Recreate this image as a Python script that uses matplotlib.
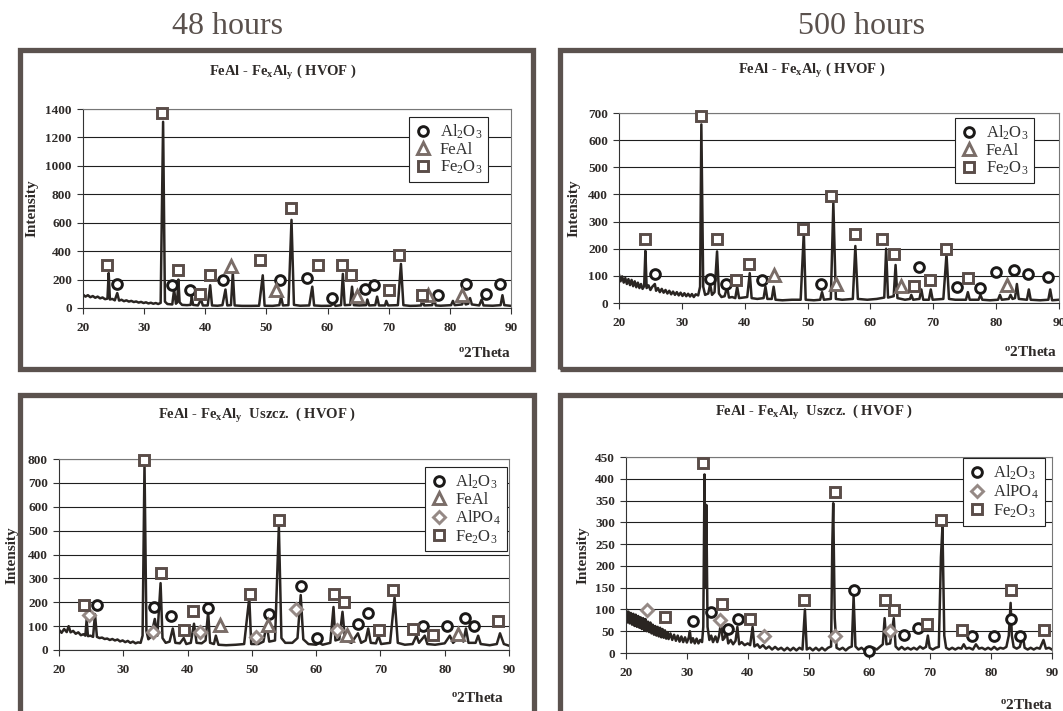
import matplotlib
matplotlib.use("Agg")
import matplotlib.pyplot as plt
from matplotlib.patches import Rectangle
from matplotlib.lines import Line2D

plt.rcParams["font.family"] = "Liberation Serif"
plt.rcParams["mathtext.fontset"] = "custom"
plt.rcParams["mathtext.rm"] = "Liberation Serif"
plt.rcParams["mathtext.bf"] = "Liberation Serif:bold"
plt.rcParams["mathtext.it"] = "Liberation Serif:italic"

W, H = 1063, 711

# ---- XRD patterns (2theta, counts) ----
p1_pattern = [
    (20.0, 95), (20.4, 80), (20.8, 90), (21.2, 76), (21.6, 84), (22.0, 72), (22.4, 80), (22.8, 68),
    (23.2, 74), (23.6, 62), (24.0, 66), (24.2, 246), (24.4, 60), (24.8, 64), (25.2, 54), (25.6, 105),
    (25.9, 52), (26.3, 58), (26.7, 48), (27.1, 54), (27.5, 45), (27.9, 50), (28.3, 42), (28.7, 46),
    (29.1, 38), (29.5, 43), (29.9, 35), (30.3, 40), (30.7, 32), (31.1, 37), (31.5, 30), (31.9, 35),
    (32.3, 28), (32.7, 36), (33.1, 1310), (33.4, 45), (33.8, 28), (34.6, 25), (34.9, 130), (35.2, 30),
    (35.4, 40), (35.6, 200), (35.8, 40), (36.2, 22), (37.0, 20), (37.6, 22), (37.8, 80), (38.0, 22),
    (38.8, 18), (39.3, 60), (39.6, 18), (40.4, 18), (40.8, 160), (41.1, 18), (42.0, 16), (42.8, 20),
    (43.3, 130), (43.6, 18), (44.2, 20), (44.5, 250), (44.8, 18), (46.0, 15), (47.5, 15), (48.8, 16),
    (49.4, 230), (49.7, 16), (51.0, 15), (52.1, 20), (52.4, 80), (52.7, 18), (53.6, 20), (54.1, 620),
    (54.5, 22), (55.5, 16), (57.0, 18), (57.5, 150), (57.8, 18), (59.0, 15), (60.5, 16), (61.0, 30),
    (61.3, 15), (62.2, 20), (62.5, 240), (62.8, 20), (63.7, 22), (64.0, 150), (64.3, 20), (65.2, 18),
    (66.3, 20), (66.5, 60), (66.8, 18), (67.8, 20), (68.1, 80), (68.4, 18), (69.4, 18), (69.6, 50),
    (69.9, 18), (71.5, 20), (72.0, 310), (72.4, 20), (73.5, 15), (74.5, 16), (75.3, 18), (75.5, 60),
    (75.8, 18), (77.1, 20), (77.4, 60), (77.7, 18), (78.5, 16), (80.2, 20), (80.5, 50), (80.8, 20),
    (82.0, 25), (82.3, 60), (82.6, 25), (83.0, 30), (83.3, 70), (83.6, 25), (84.8, 18), (85.2, 60),
    (85.5, 18), (87.0, 16), (88.3, 20), (88.6, 90), (88.9, 20), (90.0, 15),
]
p2_pattern = [
    (20.0, 105), (20.25, 80), (20.5, 98), (20.75, 75), (21.0, 92), (21.25, 70), (21.5, 88), (21.75, 66),
    (22.0, 85), (22.25, 62), (22.5, 80), (22.75, 58), (23.0, 75), (23.25, 55), (23.5, 70), (23.75, 52),
    (24.0, 62), (24.2, 192), (24.4, 55), (24.7, 65), (25.0, 48), (25.3, 60), (25.7, 70), (25.9, 45),
    (26.2, 55), (26.5, 40), (26.8, 52), (27.1, 38), (27.4, 48), (27.7, 35), (28.0, 45), (28.3, 32),
    (28.6, 42), (28.9, 30), (29.2, 40), (29.5, 28), (29.8, 38), (30.1, 26), (30.4, 36), (30.7, 25),
    (31.0, 34), (31.3, 24), (31.6, 33), (31.9, 22), (32.2, 32), (32.6, 28), (32.9, 60), (33.1, 658),
    (33.4, 60), (33.7, 30), (34.2, 35), (34.5, 70), (34.8, 30), (35.2, 40), (35.6, 190), (35.9, 35),
    (36.3, 22), (36.8, 25), (37.2, 60), (37.5, 20), (38.0, 22), (38.5, 18), (38.8, 60), (39.1, 18),
    (39.7, 20), (40.4, 22), (40.8, 110), (41.1, 18), (42.0, 15), (43.0, 18), (43.3, 60), (43.6, 15),
    (44.3, 15), (44.6, 60), (44.9, 12), (46.0, 10), (47.5, 12), (48.9, 12), (49.4, 260), (49.7, 12),
    (51.0, 10), (52.0, 12), (52.3, 40), (52.6, 12), (53.7, 15), (54.1, 370), (54.5, 15), (55.5, 12),
    (57.2, 15), (57.6, 210), (58.0, 15), (59.5, 12), (61.0, 15), (62.2, 20), (62.5, 200), (62.8, 20),
    (63.7, 25), (64.0, 140), (64.3, 18), (65.5, 12), (66.3, 15), (66.5, 30), (66.8, 12), (67.8, 15),
    (68.1, 50), (68.4, 12), (69.3, 12), (69.6, 50), (69.9, 12), (71.6, 15), (72.1, 180), (72.5, 15),
    (73.5, 12), (75.2, 12), (75.5, 40), (75.8, 12), (77.2, 12), (77.5, 30), (77.8, 12), (79.0, 10),
    (80.3, 12), (80.6, 30), (80.9, 12), (82.0, 15), (82.3, 30), (82.6, 15), (83.0, 18), (83.3, 70),
    (83.6, 15), (84.9, 12), (85.2, 50), (85.5, 12), (87.0, 10), (88.3, 12), (88.6, 50), (88.9, 10),
    (90.0, 12),
]
p3_pattern = [
    (20.0, 85), (20.4, 72), (20.8, 88), (21.2, 75), (21.5, 100), (21.8, 74), (22.2, 80), (22.6, 68),
    (23.0, 74), (23.4, 62), (23.8, 66), (24.1, 60), (24.3, 128), (24.5, 58), (24.9, 60), (25.3, 55),
    (25.6, 150), (25.9, 55), (26.3, 50), (26.7, 52), (27.1, 46), (27.5, 48), (27.9, 42), (28.3, 46),
    (28.7, 40), (29.1, 44), (29.5, 36), (29.9, 40), (30.3, 33), (30.7, 38), (31.1, 30), (31.5, 35),
    (31.9, 28), (32.3, 32), (32.7, 30), (33.0, 60), (33.3, 780), (33.6, 80), (33.9, 45), (34.3, 55),
    (34.9, 130), (35.3, 60), (35.8, 280), (36.1, 50), (36.6, 30), (37.2, 35), (37.7, 90), (38.1, 30),
    (38.8, 28), (39.4, 50), (39.8, 25), (40.5, 30), (41.0, 110), (41.4, 30), (42.2, 28), (42.8, 40),
    (43.2, 160), (43.5, 30), (44.1, 25), (44.4, 60), (44.8, 22), (46.0, 20), (47.5, 22), (48.8, 25),
    (49.6, 220), (49.9, 25), (51.0, 25), (51.8, 35), (52.3, 110), (52.7, 35), (53.6, 40), (54.2, 520),
    (54.6, 50), (55.2, 30), (56.3, 30), (57.1, 50), (57.6, 230), (58.0, 45), (58.8, 25), (60.0, 22),
    (60.5, 30), (61.0, 22), (62.2, 30), (62.7, 180), (63.0, 40), (63.6, 45), (64.1, 160), (64.5, 40),
    (65.5, 30), (66.5, 70), (67.0, 30), (67.7, 40), (68.1, 90), (68.5, 30), (69.3, 28), (69.7, 60),
    (70.1, 25), (71.5, 30), (72.2, 220), (72.7, 30), (73.8, 22), (75.0, 25), (75.6, 60), (76.0, 30),
    (76.9, 60), (77.3, 25), (78.5, 22), (80.0, 28), (80.8, 60), (81.3, 30), (82.5, 60), (82.9, 35),
    (83.3, 90), (83.7, 30), (84.8, 30), (85.2, 60), (85.6, 25), (87.0, 20), (88.1, 25), (88.6, 70),
    (89.2, 25), (90.0, 18),
]
p4_pattern = [
    (20.0, 100), (20.2, 70), (20.4, 95), (20.6, 68), (20.8, 92), (21.0, 65), (21.2, 90), (21.4, 62),
    (21.6, 88), (21.8, 60), (22.0, 85), (22.2, 58), (22.4, 82), (22.6, 55), (22.8, 80), (23.0, 52),
    (23.2, 78), (23.4, 50), (23.6, 72), (23.8, 48), (24.0, 70), (24.2, 45), (24.4, 65), (24.6, 42),
    (24.8, 62), (25.0, 40), (25.2, 60), (25.4, 38), (25.6, 58), (25.8, 36), (26.0, 55), (26.2, 35),
    (26.4, 52), (26.6, 33), (26.8, 48), (27.0, 32), (27.3, 45), (27.6, 30), (27.9, 42), (28.2, 28),
    (28.5, 40), (28.8, 26), (29.1, 38), (29.4, 25), (29.7, 36), (30.0, 24), (30.3, 35), (30.5, 50),
    (30.7, 24), (31.0, 34), (31.3, 22), (31.6, 33), (31.9, 22), (32.2, 30), (32.5, 25), (32.7, 60),
    (32.9, 410), (33.05, 150), (33.2, 340), (33.4, 60), (33.7, 30), (34.0, 40), (34.3, 25), (34.7, 38),
    (35.0, 25), (35.3, 40), (35.6, 70), (35.9, 30), (36.2, 35), (36.5, 50), (36.8, 22), (37.2, 30),
    (37.6, 20), (38.0, 28), (38.3, 60), (38.6, 20), (39.0, 25), (39.5, 18), (40.0, 22), (40.4, 18),
    (40.8, 60), (41.1, 15), (41.6, 20), (42.0, 12), (42.5, 18), (43.0, 10), (43.5, 15), (44.0, 8),
    (44.5, 14), (45.0, 8), (45.5, 12), (46.0, 6), (46.5, 12), (47.0, 6), (47.5, 12), (48.0, 6),
    (48.5, 12), (49.0, 8), (49.4, 100), (49.7, 8), (50.2, 12), (50.7, 6), (51.2, 12), (51.7, 6),
    (52.2, 12), (52.7, 6), (53.2, 12), (53.7, 15), (53.9, 250), (54.05, 344), (54.3, 80), (54.6, 12),
    (55.1, 8), (55.6, 12), (56.1, 6), (56.6, 12), (57.1, 15), (57.4, 130), (57.7, 15), (58.2, 8),
    (58.7, 12), (59.2, 6), (59.7, 12), (60.2, 6), (60.7, 12), (61.2, 8), (61.7, 14), (62.2, 20),
    (62.5, 80), (62.8, 20), (63.4, 22), (64.0, 80), (64.3, 15), (64.8, 8), (65.3, 14), (65.8, 8),
    (66.3, 12), (66.8, 8), (67.3, 12), (67.8, 8), (68.3, 15), (68.8, 10), (69.3, 14), (69.6, 40),
    (69.9, 12), (70.4, 8), (70.9, 12), (71.4, 14), (71.75, 220), (72.0, 290), (72.3, 40), (72.6, 12),
    (73.1, 8), (73.6, 12), (74.1, 8), (74.6, 12), (75.1, 10), (75.5, 20), (75.9, 10), (76.4, 12),
    (77.0, 8), (77.5, 20), (78.0, 10), (78.5, 12), (79.0, 8), (79.5, 12), (80.0, 8), (80.5, 14),
    (81.0, 8), (81.5, 12), (82.0, 10), (82.5, 14), (82.9, 40), (83.2, 115), (83.4, 40), (83.7, 14),
    (84.2, 10), (84.7, 14), (85.2, 40), (85.5, 12), (86.0, 8), (86.5, 12), (87.0, 8), (87.5, 12),
    (88.0, 10), (88.6, 30), (89.0, 10), (89.5, 12), (90.0, 8),
]

# ---- phase markers (2theta, intensity) ----
p1_fe2o3 = [(24.0, 300), (33.0, 1372), (35.6, 265), (39.1, 101), (40.7, 230), (49.0, 335), (54.0, 701),
            (58.4, 305), (62.4, 305), (63.9, 230), (70.0, 129), (71.7, 370), (75.4, 89)]
p1_al2o3 = [(25.5, 169), (34.6, 162), (37.5, 129), (42.9, 199), (52.2, 199), (56.7, 211), (60.8, 70),
            (66.1, 136), (67.6, 164), (78.1, 89), (82.7, 169), (85.9, 101), (88.2, 169)]
p1_feal = [(44.2, 293), (51.5, 129), (64.8, 82), (76.5, 89), (82.0, 89)]

p2_fe2o3 = [(24.2, 235), (33.0, 688), (35.6, 235), (38.6, 86), (40.7, 144), (49.2, 273), (53.8, 395),
            (57.5, 255), (61.9, 235), (63.7, 181), (66.9, 61), (69.4, 86), (72.1, 200), (75.5, 91)]
p2_al2o3 = [(25.7, 108), (34.5, 88), (37.1, 70), (42.7, 86), (52.1, 70), (67.7, 132), (73.7, 58),
            (77.5, 55), (79.9, 113), (82.9, 122), (85.1, 108), (88.3, 95)]
p2_feal = [(44.6, 102), (54.6, 70), (64.8, 64), (81.8, 67)]

p3_fe2o3 = [(23.9, 187), (33.3, 796), (35.9, 323), (39.4, 84), (40.9, 164), (49.7, 234), (54.2, 545),
            (62.7, 234), (64.3, 199), (69.7, 84), (71.9, 250), (75.0, 87), (78.2, 63), (88.3, 122)]
p3_al2o3 = [(25.9, 189), (34.7, 182), (37.4, 143), (43.1, 178), (52.7, 150), (57.7, 269), (60.2, 49),
            (66.5, 108), (68.1, 157), (76.6, 101), (80.3, 101), (83.2, 136), (84.6, 101)]
p3_feal = [(45.0, 105), (52.5, 105), (64.8, 63), (82.1, 66)]
p3_alpo4 = [(24.7, 147), (34.6, 77), (42.0, 77), (50.7, 56), (56.9, 171), (63.2, 84)]

p4_fe2o3 = [(26.4, 83), (32.6, 436), (35.8, 113), (40.4, 77), (49.2, 122), (54.4, 369), (62.5, 122),
            (64.1, 98), (69.5, 67), (71.8, 305), (75.2, 52), (83.2, 144), (88.7, 52)]
p4_al2o3 = [(31.0, 74), (33.9, 94), (36.8, 55), (38.4, 77), (57.5, 144), (60.0, 5), (65.7, 42),
            (67.9, 57), (76.8, 40), (80.4, 40), (83.2, 78), (84.8, 40)]
p4_alpo4 = [(23.5, 99), (35.5, 75), (42.6, 38), (54.4, 40), (63.3, 50)]

LINE = "#2a2522"
FRAME = "#5b524e"
TXT = "#2e2a28"

style = {
    "al2o3": dict(marker="o", mec="#1b1918", ms=7.0, label="Al$_\\mathrm{2}$O$_\\mathrm{3}$"),
    "feal": dict(marker="^", mec="#7a6d68", ms=8.5, label="FeAl"),
    "alpo4": dict(marker="D", mec="#958985", ms=6.0, label="AlPO$_\\mathrm{4}$"),
    "fe2o3": dict(marker="s", mec="#5a4d49", ms=6.5, label="Fe$_\\mathrm{2}$O$_\\mathrm{3}$"),
}

fig = plt.figure(figsize=(W / 100, H / 100), dpi=100)


def px(x, y):
    return x / W, 1 - y / H


# panel frames
for (l, t, r, b) in [(19.5, 50, 533, 369), (560, 50, 1080, 369), (19.5, 395, 534, 730), (560, 395, 1080, 730)]:
    fig.patches.append(Rectangle(px(l, b), (r - l) / W, (b - t) / H, transform=fig.transFigure,
                                 fill=False, ec=FRAME, lw=3.8, zorder=0))

fig.text(*px(228, 26), "48 hours", ha="center", va="center", fontsize=23, color="#5a514d")
fig.text(*px(862, 26), "500 hours", ha="center", va="center", fontsize=23, color="#5a514d")

title_a = "FeAl - Fe$_\\mathbf{x}$Al$_\\mathbf{y}$ ( HVOF )"
title_b = "FeAl - Fe$_\\mathbf{x}$Al$_\\mathbf{y}$  Uszcz.  ( HVOF )"


def panel(box, ymax, ystep, pattern, marks, title, title_xy, leg_xy, theta_xy, int_xy):
    l, t, r, b = box
    ax = fig.add_axes([l / W, 1 - b / H, (r - l) / W, (b - t) / H])
    tt = [p[0] for p in pattern]
    cnt = [p[1] for p in pattern]
    ax.plot(tt, cnt, color=LINE, lw=1.8, zorder=2)
    handles = []
    for key, pts in marks:
        st = style[key]
        ax.plot([p[0] for p in pts], [p[1] for p in pts], ls="none", marker=st["marker"],
                ms=st["ms"], mfc="white", mec=st["mec"], mew=2.1, zorder=3, clip_on=False)
        handles.append(Line2D([], [], ls="none", marker=st["marker"], ms=st["ms"], mfc="white",
                              mec=st["mec"], mew=2.1, label=st["label"]))
    ax.set_xlim(20, 90)
    ax.set_ylim(0, ymax)
    ax.set_xticks(range(20, 91, 10))
    ax.set_yticks(range(0, ymax + 1, ystep))
    ax.yaxis.grid(True, color="#1e1e1e", lw=0.8)
    ax.set_axisbelow(True)
    for s in ax.spines.values():
        s.set_color("#777777")
        s.set_linewidth(0.8)
    ax.spines["left"].set_color("#333333")
    ax.spines["bottom"].set_color("#333333")
    ax.tick_params(direction="out", length=4, width=0.8, color="#333333", labelsize=9.5,
                   labelcolor=TXT, pad=4)
    ax.tick_params(axis="x", pad=6)
    for lab in ax.get_xticklabels() + ax.get_yticklabels():
        lab.set_fontweight("bold")
    fig.text(*px(*title_xy), title, ha="center", va="center", fontsize=10.5, fontweight="bold", color=TXT)
    fig.text(*px(*theta_xy), "$^\\mathbf{o}$2Theta", ha="center", va="center", fontsize=11,
             fontweight="bold", color=TXT)
    fig.text(*px(*int_xy), "Intensity", ha="center", va="center", rotation=90, fontsize=11,
             fontweight="bold", color=TXT)
    leg = ax.legend(handles=handles, loc="upper right", bbox_to_anchor=px(*leg_xy),
                    bbox_transform=fig.transFigure, borderaxespad=0, frameon=True, fancybox=False,
                    edgecolor="#222222", framealpha=1, fontsize=12, handlelength=1.0,
                    handletextpad=0.5, labelspacing=0.05, borderpad=0.35)
    leg.get_frame().set_linewidth(0.8)
    for txt in leg.get_texts():
        txt.set_color("#333333")
    return ax


panel((83, 109, 511, 308), 1400, 200, p1_pattern,
      [("al2o3", p1_al2o3), ("feal", p1_feal), ("fe2o3", p1_fe2o3)],
      title_a, (283, 73), (488, 117), (485, 353), (32, 208))
panel((619, 113, 1059, 303), 700, 100, p2_pattern,
      [("al2o3", p2_al2o3), ("feal", p2_feal), ("fe2o3", p2_fe2o3)],
      title_a, (812, 71), (1034, 118), (1031, 352), (574, 208))
panel((59, 459, 509, 650), 800, 100, p3_pattern,
      [("al2o3", p3_al2o3), ("feal", p3_feal), ("alpo4", p3_alpo4), ("fe2o3", p3_fe2o3)],
      title_b, (257, 415), (507, 467), (478, 698), (12, 555))
panel((626, 457, 1052, 653), 450, 50, p4_pattern,
      [("al2o3", p4_al2o3), ("alpo4", p4_alpo4), ("fe2o3", p4_fe2o3)],
      title_b, (814, 412), (1045, 458), (1027, 705), (583, 555))

fig.savefig("out.png", dpi=100)
